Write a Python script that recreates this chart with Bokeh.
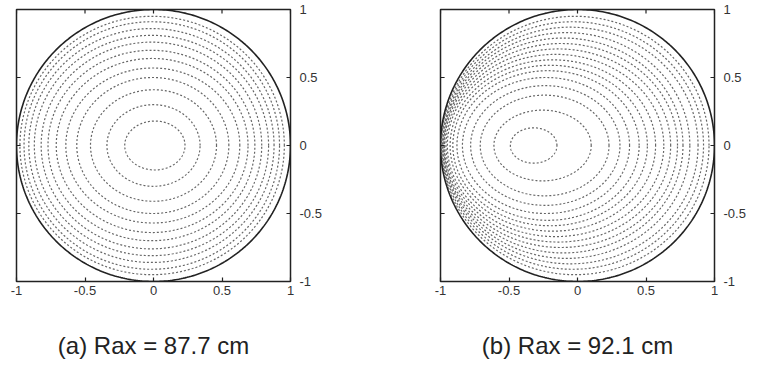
import numpy as np
from bokeh.plotting import figure
from bokeh.layouts import row
from bokeh.models import Range1d, LinearAxis, FixedTicker, Title
from bokeh.embed import file_html
from bokeh.resources import INLINE

# ---- data ----
ticks = [-1, -0.5, 0, 0.5, 1]
tick_labels = ["-1", "-0.5", "0", "0.5", "1"]
captions = ["(a) Rax = 87.7 cm", "(b) Rax = 92.1 cm"]

# panel (a): nearly concentric surfaces, center at 0
a_left_edge = [-0.21, -0.34, -0.46, -0.56, -0.64, -0.71, -0.77, -0.82, -0.87, -0.91, -0.945, -0.975]
a_right_edge = [0.23, 0.34, 0.46, 0.55, 0.63, 0.69, 0.74, 0.79, 0.84, 0.88, 0.92, 0.955]
a_half_height = [0.18, 0.30, 0.41, 0.50, 0.57, 0.64, 0.70, 0.76, 0.81, 0.86, 0.91, 0.95]

# panel (b): shifted surfaces, axis near -0.32
b_left_edge = [-0.49, -0.61, -0.71, -0.78, -0.84, -0.88, -0.91, -0.93, -0.95, -0.96, -0.97, -0.975, -0.98, -0.985, -0.99, -0.995]
b_right_edge = [-0.15, 0.10, 0.23, 0.31, 0.38, 0.45, 0.51, 0.57, 0.63, 0.68, 0.73, 0.77, 0.82, 0.88, 0.92, 0.96]
b_half_height = [0.13, 0.26, 0.37, 0.44, 0.50, 0.55, 0.59, 0.63, 0.67, 0.71, 0.75, 0.79, 0.83, 0.87, 0.91, 0.95]

boundary_radius = 1.0

FONT = "Liberation Sans"
TICK_LEN = 0.03  # inward tick length, data units


def make_panel(left, right, hh, caption, bl, br):
    p = figure(frame_width=274, frame_height=272, output_backend="svg", toolbar_location=None,
               x_range=Range1d(-1, 1), y_range=Range1d(-1, 1),
               min_border_left=bl, min_border_right=br, min_border_top=9, min_border_bottom=0,
               x_axis_location=None, y_axis_location=None)
    p.xgrid.visible = False
    p.ygrid.visible = False
    p.outline_line_color = "#222222"
    p.outline_line_width = 1.5
    p.background_fill_color = "white"
    p.border_fill_color = "white"

    t = np.linspace(0, 2 * np.pi, 400)
    for l, r, h in zip(left, right, hh):
        c = (l + r) / 2.0
        a = (r - l) / 2.0
        p.line(c + a * np.cos(t), h * np.sin(t), line_color="#666666", line_width=1.2,
               line_dash="2 2")
    p.line(boundary_radius * np.cos(t), boundary_radius * np.sin(t),
           line_color="#222222", line_width=1.6)

    # inward ticks on top and left edges
    tk = np.array(ticks, dtype=float)
    p.segment(x0=tk, y0=np.full(len(tk), 1.0), x1=tk, y1=np.full(len(tk), 1.0 - TICK_LEN),
              line_color="#222222", line_width=1.2)
    p.segment(x0=np.full(len(tk), -1.0), y0=tk, x1=np.full(len(tk), -1.0 + TICK_LEN), y1=tk,
              line_color="#222222", line_width=1.2)

    overrides = {tv: lab for tv, lab in zip(ticks, tick_labels)}

    def axis(loc):
        ax = LinearAxis(ticker=FixedTicker(ticks=ticks))
        ax.major_tick_in = 4
        ax.major_tick_out = 0
        ax.minor_tick_in = 0
        ax.minor_tick_out = 0
        ax.axis_line_color = None
        ax.major_tick_line_color = "#222222"
        ax.major_tick_line_width = 1.2
        ax.major_label_overrides = overrides
        ax.major_label_text_font = FONT
        ax.major_label_text_font_size = "13px"
        ax.major_label_text_color = "#333333"
        ax.major_label_standoff = 4 if loc == "below" else 9
        p.add_layout(ax, loc)

    axis("below")
    axis("right")

    p.add_layout(Title(text=caption, align="center", text_font=FONT, text_font_size="24px",
                       text_font_style="normal", text_color="#222222", standoff=65), "below")
    return p


p1 = make_panel(a_left_edge, a_right_edge, a_half_height, captions[0], 16, 90)
p2 = make_panel(b_left_edge, b_right_edge, b_half_height, captions[1], 60, 45)

layout = row(p1, p2)
open("out.html", "w").write(file_html(layout, INLINE))
